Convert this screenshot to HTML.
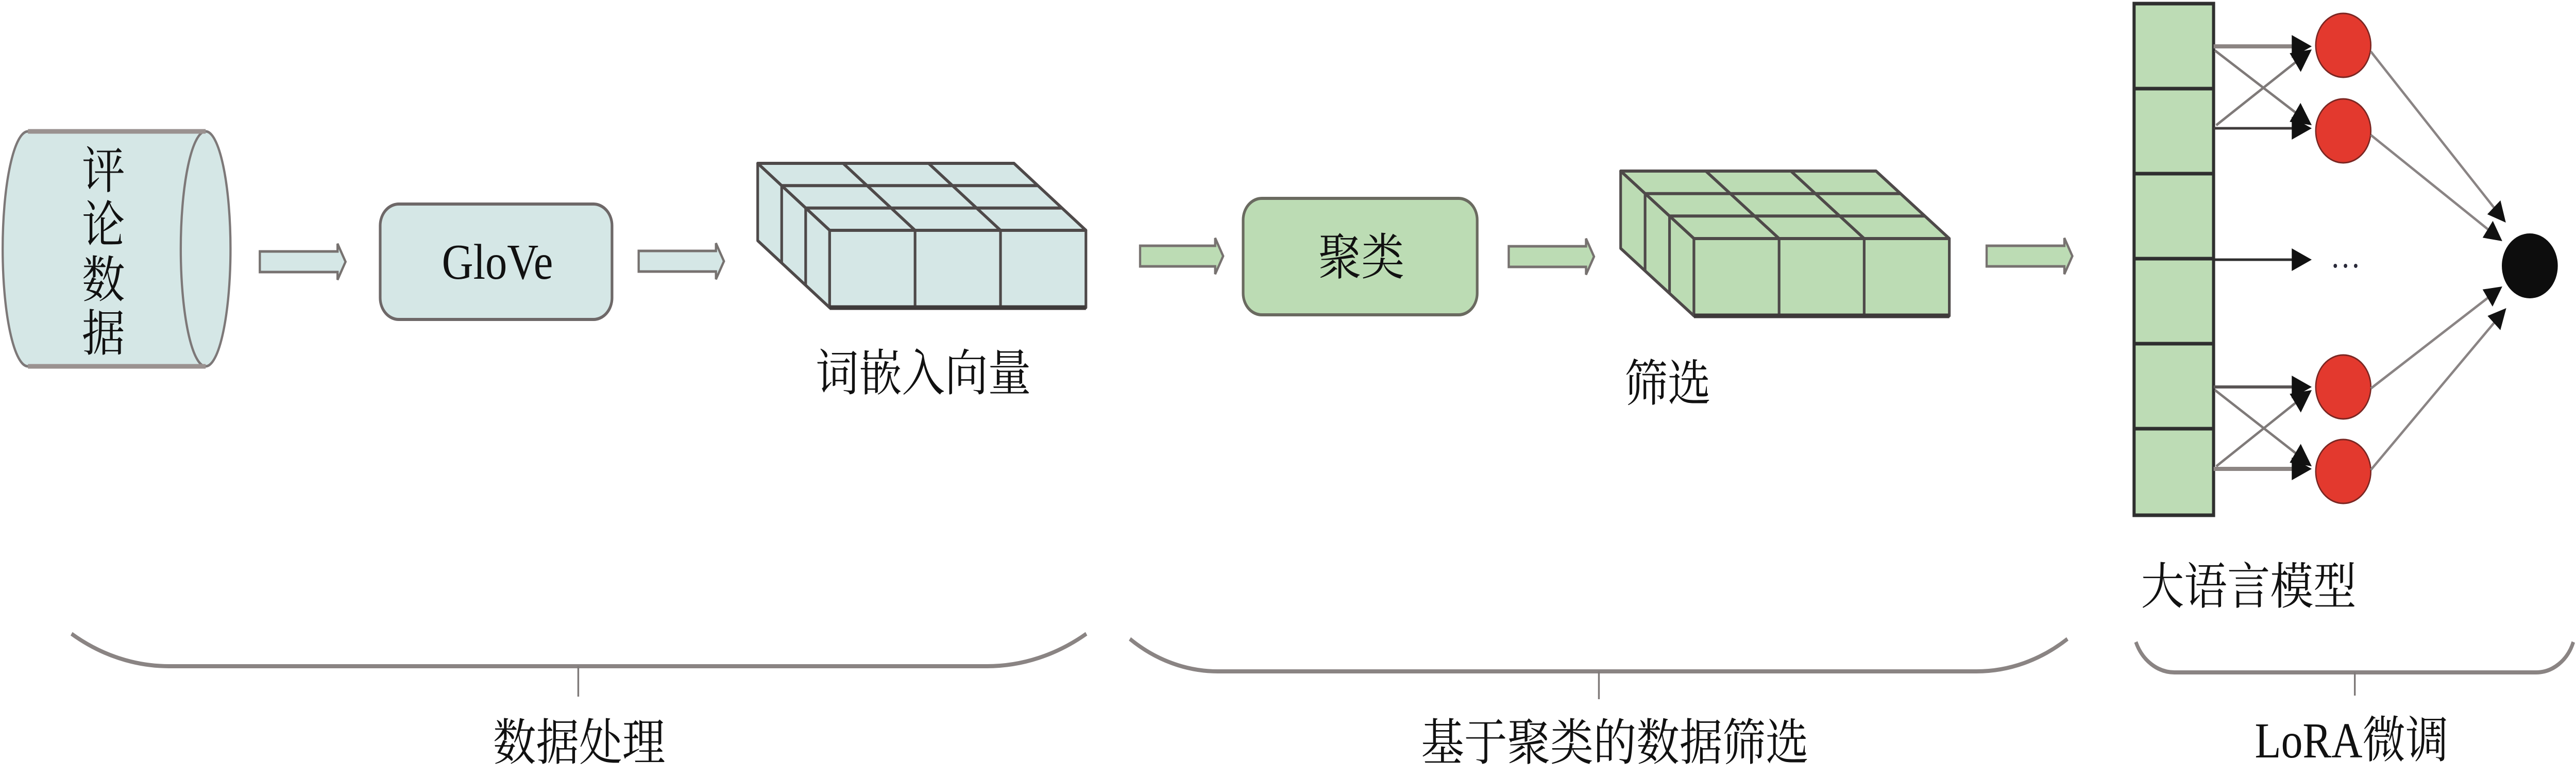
<!DOCTYPE html>
<html>
<head>
<meta charset="utf-8">
<style>
html,body{margin:0;padding:0;background:#fff;width:100%;height:100%;overflow:hidden;}
svg{display:block;width:100vw;height:100vh;}
.t{font-family:"Liberation Serif","Noto Serif CJK SC",serif;font-size:97px;fill:#111;}
</style>
</head>
<body>
<svg viewBox="0 0 5800 1508" preserveAspectRatio="none" xmlns="http://www.w3.org/2000/svg">
<rect x="0" y="0" width="5800" height="1508" fill="#ffffff"/>

<!-- Cylinder 评论数据 -->
<path d="M63,255 L463,255 A56,228 0 0 1 463,711 L63,711 A57,228 0 0 1 63,255 Z" fill="#d5e7e6" stroke="#7d7878" stroke-width="5"/>
<path d="M463,255 A56,228 0 0 0 463,711" fill="none" stroke="#7d7878" stroke-width="5"/>
<line x1="63" y1="255" x2="463" y2="255" stroke="#9a9290" stroke-width="9"/>
<line x1="63" y1="711" x2="463" y2="711" stroke="#9a9290" stroke-width="9"/>
<text class="t" x="233" y="365" text-anchor="middle">评</text>
<text class="t" x="233" y="470" text-anchor="middle">论</text>
<text class="t" x="233" y="577" text-anchor="middle">数</text>
<text class="t" x="233" y="681" text-anchor="middle">据</text>

<!-- Arrows -->
<g stroke="#777270" stroke-width="5" stroke-linejoin="miter">
<path d="M585,488 L760,488 L760,473 L778,508 L760,543 L760,528 L585,528 Z" fill="#d5e7e6"/>
<path d="M1438,487 L1612,487 L1612,472 L1630,507 L1612,542 L1612,527 L1438,527 Z" fill="#d5e7e6"/>
<path d="M2567,477 L2736,477 L2736,462 L2754,497 L2736,532 L2736,517 L2567,517 Z" fill="#bcdcb4"/>
<path d="M3397,478 L3571,478 L3571,463 L3589,498 L3571,533 L3571,518 L3397,518 Z" fill="#bcdcb4"/>
<path d="M4473,477 L4648,477 L4648,462 L4666,497 L4648,532 L4648,517 L4473,517 Z" fill="#bcdcb4"/>
</g>

<!-- GloVe box -->
<rect x="856" y="396" width="522" height="224" rx="42" ry="42" fill="#d5e7e6" stroke="#6e6868" stroke-width="6"/>
<text x="1120" y="541" text-anchor="middle" style="font-family:'Liberation Serif',serif;font-size:98px;fill:#111;">GloVe</text>

<!-- Cube 1 (blue) -->
<g stroke="#4e4949" stroke-width="6" stroke-linejoin="round" fill="#d5e7e6">
<polygon points="1868,447 2445,447 2283,317 1706,317"/>
<polygon points="1868,447 1868,597 1706,467 1706,317"/>
<rect x="1868" y="447" width="577" height="150"/>
<line x1="1814" y1="403.7" x2="2391" y2="403.7"/>
<line x1="1760" y1="360.3" x2="2337" y2="360.3"/>
<line x1="2060.3" y1="447" x2="1898.3" y2="317"/>
<line x1="2252.7" y1="447" x2="2090.7" y2="317"/>
<line x1="1814" y1="403.7" x2="1814" y2="553.7"/>
<line x1="1760" y1="360.3" x2="1760" y2="510.3"/>
<line x1="2060.3" y1="447" x2="2060.3" y2="597"/>
<line x1="2252.7" y1="447" x2="2252.7" y2="597"/>
</g>
<line x1="1868" y1="597" x2="2445" y2="597" stroke="#3e3a3a" stroke-width="9"/>
<text class="t" x="2079" y="758" text-anchor="middle">词嵌入向量</text>

<!-- 聚类 box -->
<rect x="2799" y="385" width="527" height="226" rx="42" ry="42" fill="#bcdcb4" stroke="#6a6a60" stroke-width="6"/>
<text class="t" x="3065" y="533" text-anchor="middle">聚类</text>

<!-- Cube 2 (green) -->
<g stroke="#4e4949" stroke-width="6" stroke-linejoin="round" fill="#bcdcb4">
<polygon points="3814,463 4389,463 4224,332 3649,332"/>
<polygon points="3814,463 3814,613 3649,482 3649,332"/>
<rect x="3814" y="463" width="575" height="150"/>
<line x1="3759" y1="419.3" x2="4334" y2="419.3"/>
<line x1="3704" y1="375.7" x2="4279" y2="375.7"/>
<line x1="4005.7" y1="463" x2="3840.7" y2="332"/>
<line x1="4197.3" y1="463" x2="4032.3" y2="332"/>
<line x1="3759" y1="419.3" x2="3759" y2="569.3"/>
<line x1="3704" y1="375.7" x2="3704" y2="525.7"/>
<line x1="4005.7" y1="463" x2="4005.7" y2="613"/>
<line x1="4197.3" y1="463" x2="4197.3" y2="613"/>
</g>
<line x1="3814" y1="613" x2="4389" y2="613" stroke="#3e3a3a" stroke-width="9"/>
<text class="t" x="3755" y="778" text-anchor="middle">筛选</text>

<!-- LLM column -->
<rect x="4805" y="7" width="179" height="993" fill="#bddcb5" stroke="#2f2f2f" stroke-width="7"/>
<g stroke="#2f2f2f" stroke-width="7">
<line x1="4805" y1="172" x2="4984" y2="172"/>
<line x1="4805" y1="337" x2="4984" y2="337"/>
<line x1="4805" y1="502" x2="4984" y2="502"/>
<line x1="4805" y1="667" x2="4984" y2="667"/>
<line x1="4805" y1="832" x2="4984" y2="832"/>
</g>

<!-- connections column -> red circles -->
<g fill="none">
<line x1="4984" y1="90" x2="5170" y2="90" stroke="#8c8583" stroke-width="8"/>
<line x1="4984" y1="249" x2="5170" y2="249" stroke="#3f3b3b" stroke-width="5"/>
<line x1="4987" y1="98" x2="5180" y2="226" stroke="#7f7a79" stroke-width="5"/>
<line x1="4990" y1="243" x2="5180" y2="113" stroke="#7f7a79" stroke-width="5"/>
<line x1="4984" y1="504" x2="5170" y2="504" stroke="#2f2f2f" stroke-width="5"/>
<line x1="4984" y1="751" x2="5170" y2="751" stroke="#5a5555" stroke-width="6"/>
<line x1="4984" y1="910" x2="5170" y2="910" stroke="#8c8583" stroke-width="8"/>
<line x1="4987" y1="757" x2="5180" y2="887" stroke="#7f7a79" stroke-width="5"/>
<line x1="4990" y1="905" x2="5180" y2="774" stroke="#7f7a79" stroke-width="5"/>
</g>
<g fill="#111">
<polygon points="5205,90 5160,68 5160,112"/>
<polygon points="5205,249 5160,227 5160,271"/>
<polygon points="5205,243 5155.3,236.4 5179.7,199.8"/>
<polygon points="5205,96 5180.2,139.6 5155.4,103.2"/>
<polygon points="5205,504 5160,482 5160,526"/>
<polygon points="5205,751 5160,729 5160,773"/>
<polygon points="5205,910 5160,888 5160,932"/>
<polygon points="5205,905 5155.4,897.9 5180.2,861.5"/>
<polygon points="5205,757 5180.4,800.6 5155.4,764.4"/>
</g>

<!-- red circles -->
<g fill="#e3392e" stroke="#7a2622" stroke-width="3">
<circle cx="5276" cy="88" r="62"/>
<circle cx="5276" cy="254" r="62"/>
<circle cx="5276" cy="751" r="62"/>
<circle cx="5276" cy="915" r="62"/>
</g>
<!-- dots -->
<g fill="#2a2a3a">
<circle cx="5258" cy="516" r="4"/>
<circle cx="5281" cy="516" r="4"/>
<circle cx="5304" cy="516" r="4"/>
</g>

<!-- lines to output node -->
<g stroke="#8a8484" stroke-width="5">
<line x1="5338" y1="100" x2="5620" y2="408"/>
<line x1="5338" y1="262" x2="5606" y2="448"/>
<line x1="5338" y1="754" x2="5606" y2="575"/>
<line x1="5338" y1="912" x2="5620" y2="622"/>
</g>
<g fill="#111">
<polygon points="5642,432 5600.3,415.9 5629.9,388.9"/>
<polygon points="5634,468 5589.8,461.3 5612.8,428.7"/>
<polygon points="5634,556 5612.1,595 5589.7,561.8"/>
<polygon points="5643,598 5629.7,640.7 5600.9,613.1"/>
</g>
<circle cx="5696" cy="516" r="63" fill="#0d0d0d"/>

<text class="t" x="5063" y="1172" text-anchor="middle">大语言模型</text>

<!-- Braces -->
<g fill="none" stroke="#8a8483" stroke-width="8">
<path d="M161,1230 A415,415 0 0 0 381,1293 L2222,1293 A430,430 0 0 0 2446,1230"/>
<path d="M2544,1240 A343,343 0 0 0 2742,1303 L4450,1303 A365,365 0 0 0 4655,1240"/>
<path d="M4809,1246 A94,94 0 0 0 4896,1305 L5710,1305 A89,89 0 0 0 5794,1246"/>
</g>
<g stroke="#7f7a79" stroke-width="4">
<line x1="1302" y1="1293" x2="1302" y2="1352"/>
<line x1="3600" y1="1303" x2="3600" y2="1357"/>
<line x1="5302" y1="1305" x2="5302" y2="1350"/>
</g>

<text class="t" x="1304" y="1475" text-anchor="middle">数据处理</text>
<text class="t" x="3636" y="1475" text-anchor="middle">基于聚类的数据筛选</text>
<text class="t" x="5295" y="1470" text-anchor="middle">LoRA微调</text>
</svg>
</body>
</html>
